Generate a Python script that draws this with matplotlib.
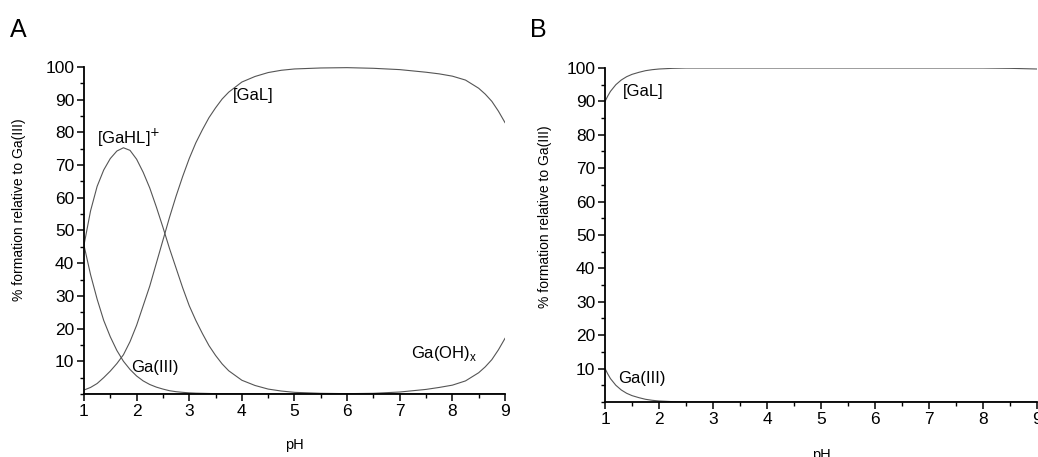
import matplotlib
matplotlib.use("Agg")
import matplotlib.pyplot as plt
from matplotlib.ticker import MultipleLocator, FixedLocator

plt.rcParams['font.family'] = ['Liberation Sans', 'DejaVu Sans']

# ---- Panel A data ----
ph_a = [1.0, 1.125, 1.25, 1.375, 1.5, 1.625, 1.75, 1.875, 2.0, 2.125, 2.25, 2.375,
        2.5, 2.625, 2.75, 2.875, 3.0, 3.125, 3.25, 3.375, 3.5, 3.625, 3.75, 4.0, 4.25,
        4.5, 4.75, 5.0, 5.5, 6.0, 6.5, 7.0, 7.5, 7.75, 8.0, 8.25, 8.5, 8.625,
        8.75, 8.875, 9.0]
ga3_a = [45.5, 36.5, 29, 22.5, 17.5, 13.3, 10.0, 7.5, 5.5, 4.0, 2.9, 2.1,
         1.5, 1.0, 0.7, 0.5, 0.35, 0.25, 0.2, 0.15, 0.1, 0.07, 0.05, 0, 0,
         0, 0, 0, 0, 0, 0, 0, 0, 0, 0, 0, 0, 0,
         0, 0, 0]
gahl_a = [45.5, 56, 63.5, 68.5, 72, 74.3, 75.3, 74.5, 71.8, 67.8, 63, 57.2,
          51, 44.5, 38.5, 32.5, 27, 22.5, 18.5, 14.8, 11.8, 9.2, 7.1, 4.2, 2.6,
          1.5, 0.9, 0.5, 0.2, 0.1, 0, 0, 0, 0, 0, 0, 0, 0,
          0, 0, 0]
gal_a = [1.2, 2.0, 3.2, 5.0, 7.0, 9.3, 12.0, 16, 21, 27, 33, 40,
         47, 54, 60.5, 66.5, 72, 76.8, 80.8, 84.5, 87.5, 90.2, 92.3, 95.4, 97.1,
         98.3, 99, 99.4, 99.7, 99.8, 99.6, 99.2, 98.4, 97.9, 97.2, 96, 93.5, 91.7,
         89.5, 86.5, 83]
gaoh_a = [0, 0, 0, 0, 0, 0, 0, 0, 0, 0, 0, 0,
          0, 0, 0, 0, 0, 0, 0, 0, 0, 0, 0, 0, 0,
          0, 0, 0, 0.05, 0.1, 0.2, 0.6, 1.4, 2.0, 2.7, 4.0, 6.5, 8.3,
          10.5, 13.5, 17]

# ---- Panel B data ----
ph_b = [1.0, 1.05, 1.1, 1.2, 1.3, 1.4, 1.5, 1.625, 1.75, 1.875, 2.0, 2.25, 2.5,
        3.0, 4.0, 5.0, 6.0, 7.0, 8.0, 8.5, 9.0]
gal_b = [90, 91.6, 93, 95, 96.4, 97.4, 98.1, 98.7, 99.2, 99.5, 99.7, 99.9, 100,
         100, 100, 100, 100, 100, 100, 99.9, 99.7]
ga3_b = [10, 8.4, 7, 5, 3.6, 2.6, 1.9, 1.3, 0.8, 0.5, 0.3, 0.1, 0,
         0, 0, 0, 0, 0, 0, 0, 0]

y_ticks = [10, 20, 30, 40, 50, 60, 70, 80, 90, 100]
x_ticks = [1, 2, 3, 4, 5, 6, 7, 8, 9]

line_kw = dict(color='#555555', lw=0.8)

fig = plt.figure(figsize=(10.38, 4.57), dpi=100)
axA = fig.add_axes([0.0809, 0.1379, 0.4056, 0.7155])
axB = fig.add_axes([0.5829, 0.1204, 0.4161, 0.7308])


def style(ax, xpad):
    ax.set_xlim(1, 9)
    ax.set_ylim(0, 100)
    for s in ('top', 'right'):
        ax.spines[s].set_visible(False)
    for s in ('left', 'bottom'):
        ax.spines[s].set_linewidth(1.3)
    ax.xaxis.set_major_locator(FixedLocator(x_ticks))
    ax.xaxis.set_minor_locator(MultipleLocator(0.5))
    ax.yaxis.set_major_locator(FixedLocator(y_ticks))
    ax.yaxis.set_minor_locator(MultipleLocator(5))
    ax.tick_params(which='major', direction='out', length=5, width=1.1, labelsize=12.5, pad=2)
    ax.tick_params(which='minor', direction='out', length=3, width=1.0)
    ax.set_ylabel('% formation relative to Ga(III)', fontsize=10)
    ax.set_xlabel('pH', fontsize=10.5, labelpad=xpad)


style(axA, 14)
axA.yaxis.set_label_coords(-0.138, 0.565)
axA.plot(ph_a, ga3_a, **line_kw)
axA.plot(ph_a, gahl_a, **line_kw)
axA.plot(ph_a, gal_a, **line_kw)
axA.plot(ph_a, gaoh_a, **line_kw)
axA.text(1.25, 78.3, '[GaHL]$^{+}$', fontsize=12, va='center', ha='left')
axA.text(3.83, 91.4, '[GaL]', fontsize=12, va='center', ha='left')
axA.text(1.89, 8, 'Ga(III)', fontsize=12, va='center', ha='left')
axA.text(7.21, 12.5, 'Ga(OH)$_{\\mathregular{x}}$', fontsize=12, va='center', ha='left')

style(axB, 15)
axB.yaxis.set_label_coords(-0.123, 0.555)
axB.plot(ph_b, gal_b, **line_kw)
axB.plot(ph_b, ga3_b, **line_kw)
axB.text(1.33, 93.1, '[GaL]', fontsize=12, va='center', ha='left')
axB.text(1.24, 6.9, 'Ga(III)', fontsize=12, va='center', ha='left')

fig.text(0.010, 0.935, 'A', fontsize=18, va='center', ha='left')
fig.text(0.511, 0.935, 'B', fontsize=18, va='center', ha='left')

fig.savefig('out.png', dpi=100)
